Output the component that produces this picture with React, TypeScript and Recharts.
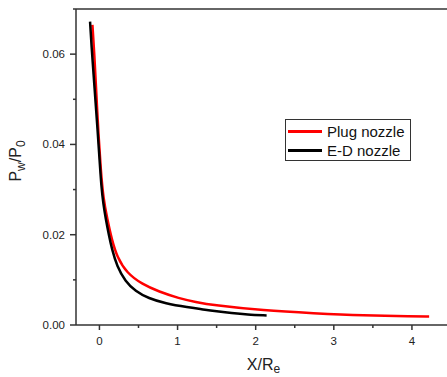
import React from 'react';
import { LineChart, Line, XAxis, YAxis, Label } from 'recharts';

// E-D nozzle (black)
const edX = [-0.12, -0.1, -0.075, -0.05, -0.025, 0, 0.025, 0.05, 0.08, 0.12, 0.16, 0.225, 0.33, 0.46, 0.63, 0.84, 1.14, 1.31, 1.46, 1.7, 1.89, 2.14];
const edY = [0.0672, 0.0615, 0.0555, 0.0495, 0.0435, 0.037, 0.0305, 0.0268, 0.0236, 0.02, 0.0168, 0.013, 0.0097, 0.0075, 0.0059, 0.0048, 0.0039, 0.0035, 0.0031, 0.0026, 0.0023, 0.0021];

// Plug nozzle (red)
const plugX = [-0.09, -0.065, -0.04, -0.015, 0.017, 0.05, 0.1, 0.16, 0.225, 0.35, 0.55, 0.76, 1.02, 1.23, 1.46, 2.1, 2.74, 3.38, 4.02, 4.22];
const plugY = [0.0665, 0.06, 0.0513, 0.043, 0.0343, 0.028, 0.0235, 0.0188, 0.0151, 0.0115, 0.009, 0.0074, 0.0059, 0.0051, 0.0044, 0.0032, 0.0026, 0.0021, 0.0019, 0.0019];

const xTicks = [0, 0.5, 1, 1.5, 2, 2.5, 3, 3.5, 4, 4.5];
const yTicks = [0, 0.01, 0.02, 0.03, 0.04, 0.05, 0.06, 0.07];
const topTicks = [0.5, 1, 1.5, 2, 2.5, 3, 3.5, 4, 4.5];
const rightTicks = [1, 2, 3, 4];

const seriesNames = ['Plug nozzle', 'E-D nozzle'];
const seriesColors = ['#ff0000', '#000000'];

const edData = edX.map((x, i) => ({ x, y: edY[i] }));
const plugData = plugX.map((x, i) => ({ x, y: plugY[i] }));

const AXIS = '#333333';
const FONT = '"Liberation Sans", Arial, sans-serif';
const axisLineStyle = { stroke: AXIS, strokeWidth: 1.5 };

const BottomTick = (props: any) => {
  const { x, y, payload } = props;
  const major = Number.isInteger(payload.value);
  return (
    <g>
      <line x1={x} y1={y} x2={x} y2={y + (major ? 5 : 3)} stroke={AXIS} strokeWidth={1.5} />
      {major && (
        <text x={x} y={y + 20} textAnchor="middle" fontSize={11.5} fontFamily={FONT} fill="#222">
          {payload.value}
        </text>
      )}
    </g>
  );
};

const LeftTick = (props: any) => {
  const { x, y, payload } = props;
  const major = Math.round(payload.value * 100) % 2 === 0;
  return (
    <g>
      <line x1={x} y1={y} x2={x - (major ? 6 : 3)} y2={y} stroke={AXIS} strokeWidth={1.5} />
      {major && (
        <text x={x - 11} y={y + 4} textAnchor="end" fontSize={11.5} fontFamily={FONT} fill="#222">
          {payload.value.toFixed(2)}
        </text>
      )}
    </g>
  );
};

// top and right axes: ticks point into the plot, labels fall outside the picture
const TopTick = (props: any) => {
  const { x, y, payload } = props;
  const major = Number.isInteger(payload.value);
  return <line x1={x} y1={y} x2={x} y2={y + (major ? 6 : 3)} stroke={AXIS} strokeWidth={1.5} />;
};

const RightTick = (props: any) => {
  const { x, y } = props;
  return <line x1={x} y1={y} x2={x - 5} y2={y} stroke={AXIS} strokeWidth={1.5} />;
};

const XTitle = (props: any) => {
  const { x, y, width } = props.viewBox;
  return (
    <text x={x + width / 2} y={y + 45} textAnchor="middle" fontSize={16} fontFamily={FONT} fill="#222">
      X/R<tspan fontSize={12} dy={3}>e</tspan>
    </text>
  );
};

const YTitle = (props: any) => {
  const { y, height } = props.viewBox;
  const cx = 21;
  const cy = y + height / 2 - 6;
  return (
    <text
      x={cx}
      y={cy}
      transform={`rotate(-90, ${cx}, ${cy})`}
      textAnchor="middle"
      fontSize={16}
      fontFamily={FONT}
      fill="#222"
    >
      P<tspan fontSize={12} dy={4}>w</tspan>
      <tspan dy={-4}>/P</tspan>
      <tspan fontSize={12} dy={4}>0</tspan>
    </text>
  );
};

export default function App() {
  return (
    <div style={{ position: 'absolute', left: 0, top: 0, width: 447, height: 377, overflow: 'hidden', background: '#fff' }}>
      <LineChart width={470} height={377} margin={{ top: 8, right: 18, bottom: 0, left: 0 }}>
        <XAxis
          type="number"
          dataKey="x"
          domain={[-0.3, 4.5]}
          ticks={xTicks}
          interval={0}
          allowDataOverflow
          height={52}
          tickSize={0}
          tickMargin={0}
          tickLine={false}
          tick={<BottomTick />}
          axisLine={axisLineStyle}
        >
          <Label content={<XTitle />} />
        </XAxis>
        <XAxis
          xAxisId="top"
          orientation="top"
          type="number"
          domain={[0, 5]}
          ticks={topTicks}
          interval={0}
          height={1}
          tickSize={0}
          tickMargin={0}
          tickLine={false}
          tick={<TopTick />}
          axisLine={axisLineStyle}
        />
        <YAxis
          type="number"
          domain={[0, 0.07]}
          ticks={yTicks}
          interval={0}
          allowDataOverflow
          width={76}
          tickSize={0}
          tickMargin={0}
          tickLine={false}
          tick={<LeftTick />}
          axisLine={axisLineStyle}
        >
          <Label content={<YTitle />} />
        </YAxis>
        <YAxis
          yAxisId="right"
          orientation="right"
          type="number"
          domain={[0, 5]}
          ticks={rightTicks}
          interval={0}
          width={1}
          tickSize={0}
          tickMargin={0}
          tickLine={false}
          tick={<RightTick />}
          axisLine={axisLineStyle}
        />
        <Line
          data={plugData}
          dataKey="y"
          name={seriesNames[0]}
          type="basis"
          stroke={seriesColors[0]}
          strokeWidth={2.5}
          dot={false}
          isAnimationActive={false}
        />
        <Line
          data={edData}
          dataKey="y"
          name={seriesNames[1]}
          type="basis"
          stroke={seriesColors[1]}
          strokeWidth={2.5}
          dot={false}
          isAnimationActive={false}
        />
      </LineChart>
      <div
        style={{
          position: 'absolute',
          left: 285,
          top: 119,
          width: 124,
          height: 40,
          border: '1px solid #333',
          background: '#fff',
          fontFamily: FONT,
          fontSize: 15,
          color: '#111',
        }}
      >
        {seriesNames.map((name, i) => (
          <div key={name} style={{ position: 'absolute', left: 0, top: 2 + i * 19, height: 19, display: 'flex', alignItems: 'center' }}>
            <div style={{ marginLeft: 2, width: 34, height: 2.5, background: seriesColors[i] }} />
            <span style={{ marginLeft: 5, whiteSpace: 'nowrap', lineHeight: '19px' }}>{name}</span>
          </div>
        ))}
      </div>
    </div>
  );
}
